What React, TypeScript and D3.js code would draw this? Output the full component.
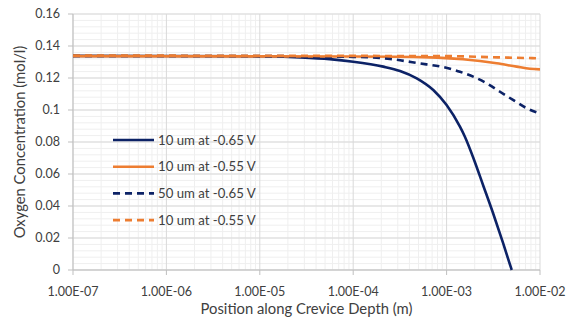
import React from 'react';
import * as d3 from 'd3';

// x positions (m) and oxygen concentration (mol/l)
const depth65 = [1e-7, 1e-5, 2.7e-5, 5.6e-5, 1e-4, 2.1e-4, 3.17e-4, 4.79e-4, 7.2e-4, 1e-3, 1.39e-3, 1.57e-3, 1.97e-3, 2.46e-3, 3.14e-3, 4.02e-3, 4.98e-3];
const conc10um65 = [0.1338, 0.1336, 0.1329, 0.1318, 0.1302, 0.1271, 0.1244, 0.1198, 0.1125, 0.1031, 0.0896, 0.0833, 0.0688, 0.053, 0.0356, 0.0169, 0];

const depth55 = [1e-7, 1e-4, 6.6e-4, 1.5e-3, 3.44e-3, 5.62e-3, 7.8e-3, 1e-2];
const conc10um55 = [0.1337, 0.1334, 0.1329, 0.1317, 0.1292, 0.1271, 0.1258, 0.1254];

const depth50 = [1e-7, 1e-5, 1e-4, 2.48e-4, 4.79e-4, 1.09e-3, 1.39e-3, 2.69e-3, 3.73e-3, 5.14e-3, 7.21e-3, 1e-2];
const conc50um65 = [0.1338, 0.1337, 0.1332, 0.1319, 0.1294, 0.1258, 0.1239, 0.1167, 0.1114, 0.1063, 0.1011, 0.0978];

const depth55b = [1e-7, 1e-3, 3e-3, 1e-2];
const conc10um55b = [0.134, 0.1337, 0.133, 0.1323];

const seriesNames = ['10 um at -0.65 V', '10 um at -0.55 V', '50 um at -0.65 V', '10 um at -0.55 V'];
const xTickValues = [1e-7, 1e-6, 1e-5, 1e-4, 1e-3, 1e-2];
const xTickLabels = ['1.00E-07', '1.00E-06', '1.00E-05', '1.00E-04', '1.00E-03', '1.00E-02'];
const yTickValues = [0, 0.02, 0.04, 0.06, 0.08, 0.1, 0.12, 0.14, 0.16];
const yTickLabels = ['0', '0.02', '0.04', '0.06', '0.08', '0.1', '0.12', '0.14', '0.16'];

const NAVY = '#0c2266';
const ORANGE = '#ed7d31';
const FONT = 'Lato, sans-serif';
const TEXT = '#404040';

export default function App() {
  const width = 573;
  const height = 320;
  const m = { left: 73, right: 33, top: 14, bottom: 50 };
  const x = d3.scaleLog().domain([1e-7, 1e-2]).range([m.left, width - m.right]);
  const y = d3.scaleLinear().domain([0, 0.16]).range([height - m.bottom, m.top]);

  const series = [
    { xs: depth65, ys: conc10um65, color: NAVY, dash: null },
    { xs: depth55, ys: conc10um55, color: ORANGE, dash: null },
    { xs: depth50, ys: conc50um65, color: NAVY, dash: '7,5' },
    { xs: depth55b, ys: conc10um55b, color: ORANGE, dash: '7,5' },
  ];

  const line = d3
    .line<[number, number]>()
    .x((d) => x(d[0]))
    .y((d) => y(d[1]))
    .curve(d3.curveMonotoneX);

  // minor grid: 2..9 in each decade, every 0.004 vertically
  const minorX: number[] = [];
  for (let e = -7; e < -2; e++) {
    for (let k = 2; k <= 9; k++) minorX.push(k * Math.pow(10, e));
  }
  const minorY = d3.range(0, 0.1601, 0.004);

  const [x0, x1] = x.range();
  const [yb, yt] = y.range();

  return (
    <svg width={width} height={height} style={{ position: 'absolute', left: 0, top: 0, background: '#fff' }}>
      {/* minor grid */}
      {minorY.map((v, i) => (
        <line key={'my' + i} x1={x0} x2={x1} y1={y(v)} y2={y(v)} stroke="#efefef" strokeWidth={1} />
      ))}
      {minorX.map((v, i) => (
        <line key={'mx' + i} x1={x(v)} x2={x(v)} y1={yb} y2={yt} stroke="#efefef" strokeWidth={1} />
      ))}
      {/* major grid */}
      {yTickValues.map((v, i) => (
        <line key={'gy' + i} x1={x0} x2={x1} y1={y(v)} y2={y(v)} stroke="#d9d9d9" strokeWidth={1} />
      ))}
      {xTickValues.map((v, i) => (
        <line key={'gx' + i} x1={x(v)} x2={x(v)} y1={yb} y2={yt} stroke="#d9d9d9" strokeWidth={1} />
      ))}
      {/* axes */}
      <line x1={x0} x2={x0} y1={yb} y2={yt} stroke="#bfbfbf" />
      <line x1={x0} x2={x1} y1={yb} y2={yb} stroke="#bfbfbf" />
      {yTickValues.map((v, i) => (
        <line key={'ty' + i} x1={x0 - 5} x2={x0} y1={y(v)} y2={y(v)} stroke="#bfbfbf" />
      ))}
      {xTickValues.map((v, i) => (
        <line key={'tx' + i} x1={x(v)} x2={x(v)} y1={yb} y2={yb + 5} stroke="#bfbfbf" />
      ))}

      {/* tick labels */}
      {yTickValues.map((v, i) => (
        <text key={'ly' + i} x={x0 - 13} y={y(v)} dy="0.35em" textAnchor="end" fontFamily={FONT} fontSize={12.5} fill={TEXT}>
          {yTickLabels[i]}
        </text>
      ))}
      {xTickValues.map((v, i) => (
        <text key={'lx' + i} x={x(v)} y={yb + 22} dy="0.35em" textAnchor="middle" fontFamily={FONT} fontSize={12.5} fill={TEXT}>
          {xTickLabels[i]}
        </text>
      ))}

      {/* axis titles */}
      <text x={(x0 + x1) / 2} y={309} dy="0.35em" textAnchor="middle" fontFamily={FONT} fontSize={14.8} fill={TEXT}>
        Position along Crevice Depth (m)
      </text>
      <text
        transform={`translate(20,${(yb + yt) / 2}) rotate(-90)`}
        dy="0.35em"
        textAnchor="middle"
        fontFamily={FONT}
        fontSize={14.8}
        fill={TEXT}
      >
        Oxygen Concentration (mol/l)
      </text>

      {/* series */}
      {series.map((s, i) => (
        <path
          key={'s' + i}
          d={line(s.xs.map((v, j) => [v, s.ys[j]] as [number, number])) || ''}
          fill="none"
          stroke={s.color}
          strokeWidth={2.6}
          strokeDasharray={s.dash || undefined}
        />
      ))}

      {/* legend */}
      {series.map((s, i) => (
        <g key={'lg' + i} transform={`translate(113,${140 + i * 26.7})`}>
          <line x1={0} x2={41} y1={0} y2={0} stroke={s.color} strokeWidth={2.6} strokeDasharray={s.dash || undefined} />
          <text x={45} y={0} dy="0.35em" fontFamily={FONT} fontSize={13.2} fill={TEXT}>
            {seriesNames[i]}
          </text>
        </g>
      ))}
    </svg>
  );
}
